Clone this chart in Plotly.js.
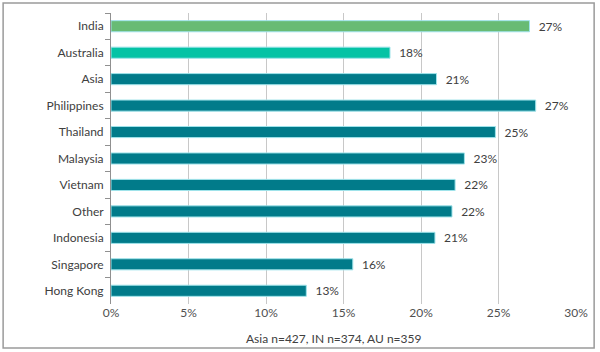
<!DOCTYPE html>
<html><head><meta charset="utf-8">
<script src="https://cdn.plot.ly/plotly-3.0.1.min.js"></script>
<style>html,body{margin:0;padding:0;background:#fff;}#chart{width:600px;height:352px;}</style>
</head><body><div id="chart"></div>
<script>
var categories = ["India","Australia","Asia","Philippines","Thailand","Malaysia","Vietnam","Other","Indonesia","Singapore","Hong Kong"];
var values = [27.0, 18.0, 21.0, 27.4, 24.8, 22.8, 22.2, 22.0, 20.9, 15.6, 12.6];
var barColors = ["#68bb74","#05c3a5","#017b8a","#017b8a","#017b8a","#017b8a","#017b8a","#017b8a","#017b8a","#017b8a","#017b8a"];
var tickVals = [0,5,10,15,20,25,30];
var tickText = ["0%","5%","10%","15%","20%","25%","30%"];
var axisNote = "Asia n=427, IN n=374, AU n=359";

var font = "Lato, 'Open Sans', sans-serif";
var trace = {
  type: "bar", orientation: "h",
  y: categories, x: values,
  marker: {color: barColors, line: {color: "#9fe3ea", width: 1}},
  texttemplate: "  %{x:.0f}%", textposition: "outside", cliponaxis: false,
  constraintext: "none",
  textfont: {family: font, size: 12, color: "#404040"},
  width: 0.42, hoverinfo: "none"
};
var layout = {
  width: 600, height: 352,
  margin: {l: 111, r: 24, t: 13, b: 48},
  paper_bgcolor: "#fff", plot_bgcolor: "#fff",
  showlegend: false,
  font: {family: font, size: 12, color: "#404040"},
  xaxis: {range: [0, 30], tickvals: tickVals, ticktext: tickText, showgrid: true,
    gridcolor: "#c8c8c8", gridwidth: 1, zeroline: false, showline: false, ticks: "",
    tickfont: {family: font, size: 12, color: "#505050"}, fixedrange: true},
  yaxis: {autorange: "reversed", type: "category", showline: true, linecolor: "#909090",
    linewidth: 1, ticks: "outside", tickson: "boundaries", ticklen: 5, tickcolor: "#909090",
    showgrid: false, zeroline: false, ticklabelstandoff: 4,
    tickfont: {family: font, size: 12, color: "#404040"}, fixedrange: true},
  annotations: [{xref: "paper", yref: "paper", x: 0.478, y: -0.118, text: axisNote,
    showarrow: false, xanchor: "center", yanchor: "middle",
    font: {family: font, size: 12, color: "#404040"}}],
  shapes: [{type: "rect", xref: "paper", yref: "paper",
    x0: -0.232, x1: 1.039, y0: -0.151, y1: 1.034,
    line: {color: "#9a9a9a", width: 1.5}, fillcolor: "rgba(0,0,0,0)", layer: "below"}]
};
Plotly.newPlot("chart", [trace], layout, {staticPlot: true, displayModeBar: false});
</script></body></html>
